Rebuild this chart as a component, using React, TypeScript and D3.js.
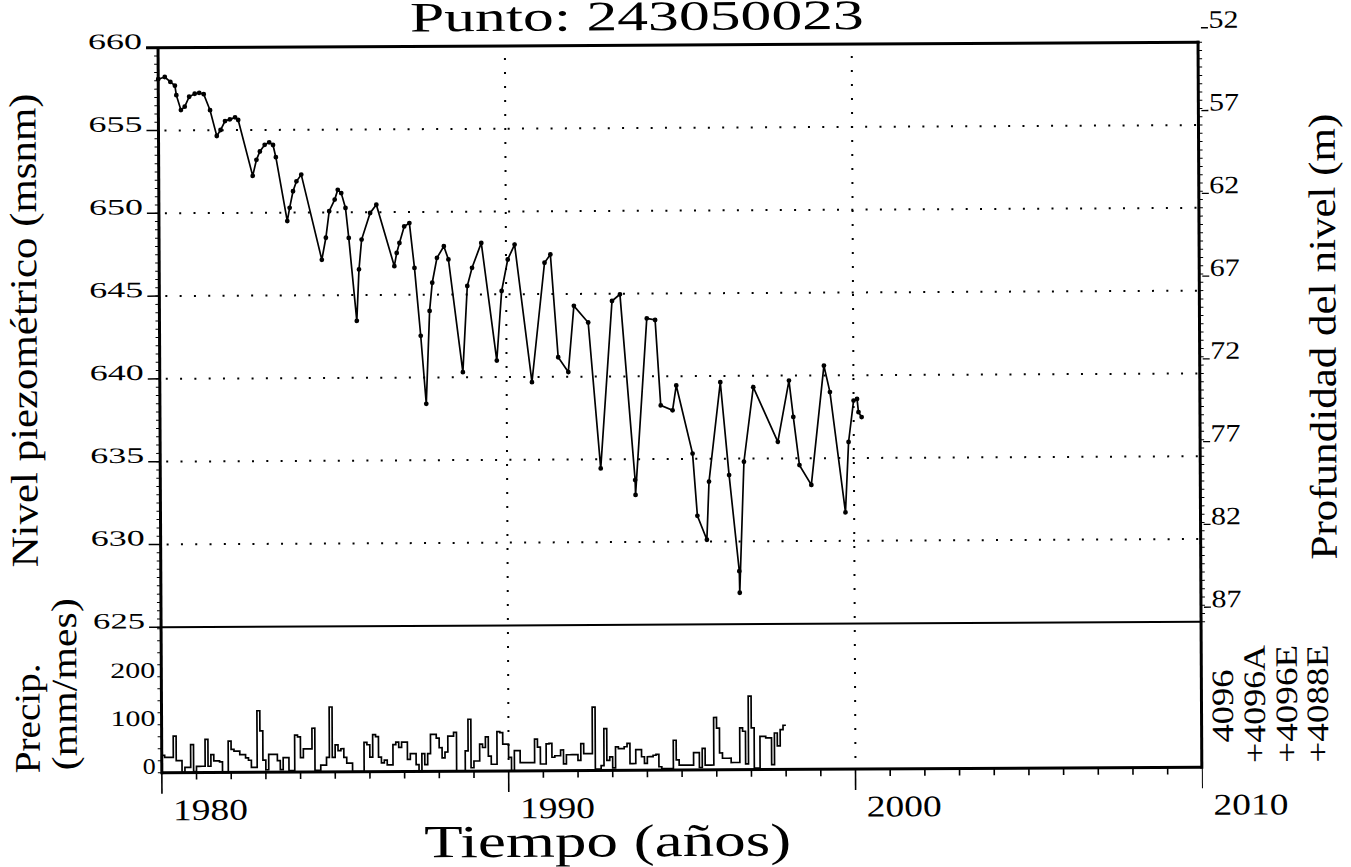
import React from "react";
import * as d3 from "d3";

// ---- Data ----
const levelYears = [
  1980.0, 1980.19, 1980.35, 1980.48, 1980.52, 1980.65, 1980.76, 1980.89, 1981.05, 1981.18,
  1981.31, 1981.49, 1981.68, 1981.79, 1981.92, 1982.06, 1982.21, 1982.3, 1982.71, 1982.82,
  1982.92, 1983.06, 1983.19, 1983.3, 1983.38, 1983.7, 1983.77, 1983.87, 1983.97, 1984.11,
  1984.69, 1984.81, 1984.91, 1985.07, 1985.16, 1985.26, 1985.38, 1985.47, 1985.69, 1985.76,
  1985.84, 1986.09, 1986.27, 1986.78, 1986.85, 1986.93, 1987.07, 1987.22, 1987.36, 1987.53,
  1987.68, 1987.79, 1987.87, 1988.01, 1988.21, 1988.34, 1988.74, 1988.88, 1989.02, 1989.29,
  1989.72, 1989.87, 1990.05, 1990.25, 1990.73, 1991.11, 1991.28, 1991.49, 1991.78, 1991.95,
  1992.36, 1992.7, 1993.05, 1993.28, 1993.69, 1993.7, 1994.05, 1994.29, 1994.44, 1994.78,
  1994.89, 1995.35, 1995.48, 1995.75, 1995.82, 1996.16, 1996.4, 1996.68, 1996.69, 1996.83,
  1997.11, 1997.81, 1998.14, 1998.26, 1998.43, 1998.77, 1999.15, 1999.32, 1999.75, 1999.85,
  2000.0, 2000.1, 2000.14, 2000.23,
];
const levelValues = [
  658.1, 658.23, 657.93, 657.7, 657.13, 656.23, 656.43, 657.03, 657.21, 657.26,
  657.18, 656.21, 654.65, 655.01, 655.55, 655.65, 655.77, 655.61, 652.23, 653.2,
  653.7, 654.1, 654.25, 654.09, 653.35, 649.49, 650.29, 651.29, 651.89, 652.29,
  647.14, 648.47, 650.07, 650.77, 651.36, 651.16, 650.26, 648.45, 643.44, 646.55,
  648.35, 649.95, 650.45, 646.73, 647.53, 648.13, 649.13, 649.33, 646.62, 642.52,
  638.41, 644.02, 645.72, 647.22, 647.92, 647.12, 640.31, 645.51, 646.61, 648.11,
  641.0, 645.2, 647.1, 648.0, 639.68, 646.89, 647.39, 641.18, 640.28, 644.28,
  643.27, 634.45, 644.56, 644.96, 633.74, 632.84, 643.5, 643.4, 638.24, 637.94,
  639.44, 635.32, 631.56, 630.11, 633.62, 639.62, 634.01, 628.2, 626.9, 634.81,
  639.31, 636.0, 639.7, 637.5, 634.59, 633.39, 640.59, 638.99, 631.72, 635.97,
  638.47, 638.57, 637.77, 637.47,
];

// monthly precipitation (mm/mes), starting January 1980
const precipStartYear = 1980;
const precip1980to1984 = [
  36, 32, 32, 32, 76, 25, 25, 0, 11, 11, 58, 2,
  13, 13, 13, 69, 13, 37, 24, 24, 22, 0, 0, 65,
  48, 44, 44, 37, 37, 30, 25, 10, 10, 128, 86, 25,
  5, 37, 37, 37, 24, 5, 30, 30, 3, 3, 77, 73,
  30, 48, 48, 48, 91, 3, 3, 14, 14, 30, 135, 30,
];
const precip1985to1989 = [
  56, 44, 48, 30, 18, 18, 0, 0, 0, 0, 61, 56,
  30, 77, 73, 30, 18, 24, 14, 14, 56, 61, 50, 61,
  61, 25, 37, 37, 14, 0, 37, 14, 37, 77, 77, 69,
  49, 28, 40, 73, 73, 81, 0, 0, 0, 42, 108, 7,
  21, 21, 56, 49, 71, 31, 14, 14, 82, 80, 56, 56,
];
const precip1990to1994 = [
  28, 0, 42, 42, 17, 17, 17, 17, 17, 66, 49, 14,
  14, 56, 57, 28, 31, 31, 43, 14, 33, 33, 33, 33,
  21, 56, 35, 35, 35, 132, 3, 3, 10, 87, 21, 28,
  5, 49, 45, 45, 49, 56, 14, 14, 43, 43, 28, 14,
  28, 28, 31, 33, 7, 3, 3, 3, 3, 62, 21, 10,
];
const precip1995to1997 = [
  10, 10, 10, 10, 36, 36, 5, 45, 10, 10, 10, 109,
  87, 35, 24, 24, 24, 15, 15, 15, 87, 80, 12, 153,
  87, 3, 3, 69, 69, 66, 66, 10, 76, 49, 83, 92,
];

const levelTicks = [660, 655, 650, 645, 640, 635, 630, 625];
const gridLevels = [655, 650, 645, 640, 635, 630];
const depthTicks = [52, 57, 62, 67, 72, 77, 82, 87];
const precipTicks = [0, 100, 200];
const yearTicks = [1980, 1990, 2000, 2010];
const gridYears = [1990, 2000];
const wellLabels = ["4096", "+4096A", "+4096E", "+4088E"];

const FONT = '"Liberation Serif", "Times New Roman", serif';

export default function App() {
  const W = 1351;
  const H = 867;
  const x = d3.scaleLinear().domain([1980, 2010]).range([160, 1200.5]);
  const yL = d3.scaleLinear().domain([625, 660]).range([624.5, 45]);
  const yD = d3.scaleLinear().domain([87, 52]).range([624.5, 45]);
  const yP = d3.scaleLinear().domain([0, 303]).range([770, 624.5]);

  const left = x(1980);
  const right = 1200;
  const top = yL(660);
  const base = yP(0);

  const levelPts: [number, number][] = levelYears.map((t, i) => [t, levelValues[i]]);
  const lineGen = d3
    .line<[number, number]>()
    .x((d) => x(d[0]))
    .y((d) => yL(d[1]));

  const precip = [...precip1980to1984, ...precip1985to1989, ...precip1990to1994, ...precip1995to1997];
  const pPts: [number, number][] = [
    [precipStartYear, 0],
    ...precip.map((v, i) => [precipStartYear + i / 12, v] as [number, number]),
    [precipStartYear + precip.length / 12, precip[precip.length - 1]],
  ];
  const stepGen = d3
    .line<[number, number]>()
    .x((d) => x(d[0]))
    .y((d) => yP(d[1]))
    .curve(d3.curveStepAfter);

  const minorLevel = d3.range(625, 660.001, 0.5);
  const minorDepth = d3.range(52, 87.001, 0.5);
  const minorPrecip = d3.range(0, 301, 25);
  const years = d3.range(1980, 2011, 1);

  const wellPos = [
    { bx: 1231.5, by: 745.5, len: 73 },
    { bx: 1263.5, by: 766, len: 118 },
    { bx: 1295.5, by: 766, len: 118 },
    { bx: 1326.5, by: 766, len: 118 },
  ];

  return (
    <svg
      width={W}
      height={H}
      viewBox={`0 0 ${W} ${H}`}
      style={{ position: "absolute", left: 0, top: 0, background: "#fff" }}
    >
      <rect x={0} y={0} width={W} height={H} fill="#fff" />
      <g transform="rotate(-0.3 680 420)" fontFamily={FONT} fill="#000">
        {/* dotted grid */}
        {gridLevels.map((v) => (
          <line
            key={"gh" + v}
            x1={left + 6}
            x2={right}
            y1={yL(v)}
            y2={yL(v)}
            stroke="#000"
            strokeWidth={2}
            strokeDasharray="2 12.3"
          />
        ))}
        {gridYears.map((t) => (
          <line
            key={"gv" + t}
            x1={x(t)}
            x2={x(t)}
            y1={top + 12}
            y2={base}
            stroke="#000"
            strokeWidth={2}
            strokeDasharray="2 12"
          />
        ))}

        {/* minor ticks */}
        {minorLevel.map((v) => (
          <line key={"ml" + v} x1={left - 4} x2={left} y1={yL(v)} y2={yL(v)} stroke="#000" strokeWidth={1} />
        ))}
        {minorDepth.map((v) => (
          <line key={"md" + v} x1={right} x2={right + 4} y1={yD(v)} y2={yD(v)} stroke="#000" strokeWidth={1} />
        ))}
        {minorPrecip.map((v) => (
          <line key={"mp" + v} x1={left - 4} x2={left} y1={yP(v)} y2={yP(v)} stroke="#000" strokeWidth={1} />
        ))}
        {years.map((t) => (
          <line
            key={"yt" + t}
            x1={x(t)}
            x2={x(t)}
            y1={base}
            y2={base + (t % 10 === 0 ? 21 : 7)}
            stroke="#000"
            strokeWidth={t === 2010 ? 1 : 1.6}
          />
        ))}

        {/* major level ticks */}
        {levelTicks.map((v) => (
          <line key={"lt" + v} x1={148} x2={left} y1={yL(v)} y2={yL(v)} stroke="#000" strokeWidth={1.5} />
        ))}

        {/* frame */}
        <line x1={148} x2={right + 1.5} y1={top} y2={top} stroke="#000" strokeWidth={3} />
        <line x1={left} x2={left} y1={top} y2={base + 1.5} stroke="#000" strokeWidth={3} />
        <line x1={right} x2={right} y1={top - 1.5} y2={base + 1.5} stroke="#000" strokeWidth={3} />
        <line x1={left} x2={right} y1={base} y2={base} stroke="#000" strokeWidth={3} />
        <line x1={left} x2={right} y1={yL(625)} y2={yL(625)} stroke="#000" strokeWidth={2} />

        {/* precipitation steps */}
        <path d={stepGen(pPts) || ""} fill="none" stroke="#000" strokeWidth={1.7} />

        {/* level line and points */}
        <path d={lineGen(levelPts) || ""} fill="none" stroke="#000" strokeWidth={1.7} />
        {levelPts.map((d, i) => (
          <circle key={"pt" + i} cx={x(d[0])} cy={yL(d[1])} r={2.4} fill="#000" />
        ))}

        {/* left level labels */}
        {levelTicks.map((v) => (
          <text
            key={"ll" + v}
            x={144}
            y={yL(v) + 1}
            fontSize={22}
            textAnchor="end"
            textLength={v === 625 ? 52 : 54}
            lengthAdjust="spacingAndGlyphs"
          >
            {v}
          </text>
        ))}

        {/* precip labels */}
        {precipTicks.map((v) => (
          <text
            key={"pl" + v}
            x={154}
            y={yP(v) + 1}
            fontSize={22}
            textAnchor="end"
            textLength={v === 0 ? 13 : 45}
            lengthAdjust="spacingAndGlyphs"
          >
            {v}
          </text>
        ))}

        {/* right depth labels */}
        {depthTicks.map((d) => (
          <g key={"dl" + d}>
            <line x1={1203} x2={1210} y1={yD(d) - 14.5} y2={yD(d) - 14.5} stroke="#000" strokeWidth={1.3} />
            <text
              x={1210.5}
              y={yD(d) - 14.5}
              fontSize={25}
              textLength={30}
              lengthAdjust="spacingAndGlyphs"
            >
              {d}
            </text>
          </g>
        ))}

        {/* year labels */}
        {yearTicks.map((t) => (
          <text
            key={"xl" + t}
            x={x(t) + 11}
            y={817.5}
            fontSize={30}
            textLength={75}
            lengthAdjust="spacingAndGlyphs"
          >
            {t}
          </text>
        ))}

        {/* well labels */}
        {wellLabels.map((s, i) => (
          <text
            key={"wl" + s}
            transform={`translate(${wellPos[i].bx},${wellPos[i].by}) rotate(-90)`}
            fontSize={31}
            textLength={wellPos[i].len}
            lengthAdjust="spacingAndGlyphs"
          >
            {s}
          </text>
        ))}

        {/* titles */}
        <text x={412} y={30} fontSize={42} textLength={454} lengthAdjust="spacingAndGlyphs">
          Punto: 243050023
        </text>
        <text x={422} y={856} fontSize={46} textLength={367} lengthAdjust="spacingAndGlyphs">
          Tiempo (años)
        </text>
        <text
          transform="translate(37,564) rotate(-90)"
          fontSize={38}
          textLength={474}
          lengthAdjust="spacingAndGlyphs"
        >
          Nivel piezométrico (msnm)
        </text>
        <text
          transform="translate(1336,563) rotate(-90)"
          fontSize={38}
          textLength={446}
          lengthAdjust="spacingAndGlyphs"
        >
          Profundidad del nivel (m)
        </text>
        <text
          transform="translate(38,770) rotate(-90)"
          fontSize={36}
          textLength={110}
          lengthAdjust="spacingAndGlyphs"
        >
          Precip.
        </text>
        <text
          transform="translate(75,767) rotate(-90)"
          fontSize={36}
          textLength={172}
          lengthAdjust="spacingAndGlyphs"
        >
          (mm/mes)
        </text>
      </g>
    </svg>
  );
}
